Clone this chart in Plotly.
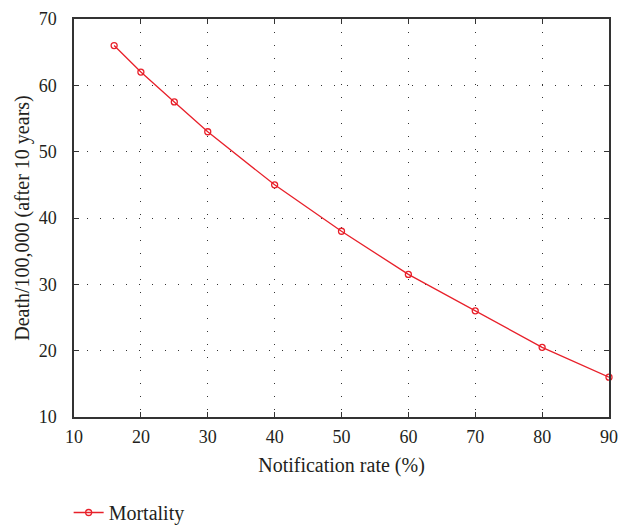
import plotly.graph_objects as go

notification_rate = [16, 20, 25, 30, 40, 50, 60, 70, 80, 90]
mortality = [66, 62, 57.5, 53, 45, 38, 31.5, 26, 20.5, 16]
series_name = "Mortality"
x_title = "Notification rate (%)"
y_title = "Death/100,000 (after 10 years)"

red = "#e8202a"
tick_font = dict(family="Liberation Serif, serif", size=18, color="#231f20")
title_font = dict(family="Liberation Serif, serif", size=20, color="#231f20")

fig = go.Figure()
fig.add_trace(go.Scatter(
    x=notification_rate, y=mortality, name=series_name,
    mode="lines+markers",
    line=dict(color=red, width=1.3),
    marker=dict(symbol="circle-open", size=6, color=red, line=dict(width=1.3, color=red)),
    cliponaxis=False,
))

axis_common = dict(
    showline=True, linecolor="#333333", linewidth=1.5, mirror="ticks",
    ticks="inside", ticklen=5, tickcolor="#333333", tickwidth=1,
    showgrid=True, gridcolor="#333333", griddash="1px,12px", gridwidth=1.3,
    zeroline=False, tickfont=tick_font, title_font=title_font,
)

fig.update_layout(
    width=630, height=526,
    margin=dict(l=74, r=21, t=19, b=109, autoexpand=False),
    paper_bgcolor="white", plot_bgcolor="white",
    font=tick_font,
    showlegend=True,
    legend=dict(orientation="h", x=-0.01, y=-0.24, xanchor="left", yanchor="middle",
                font=title_font, bgcolor="rgba(0,0,0,0)"),
    xaxis=dict(range=[10, 90], dtick=10, title=dict(text=x_title, standoff=12),
               ticklabelstandoff=3, **axis_common),
    yaxis=dict(range=[10, 70], dtick=10, title=dict(text=y_title, standoff=4),
               ticklabelstandoff=12, **axis_common),
)

fig.write_html("out.html")
